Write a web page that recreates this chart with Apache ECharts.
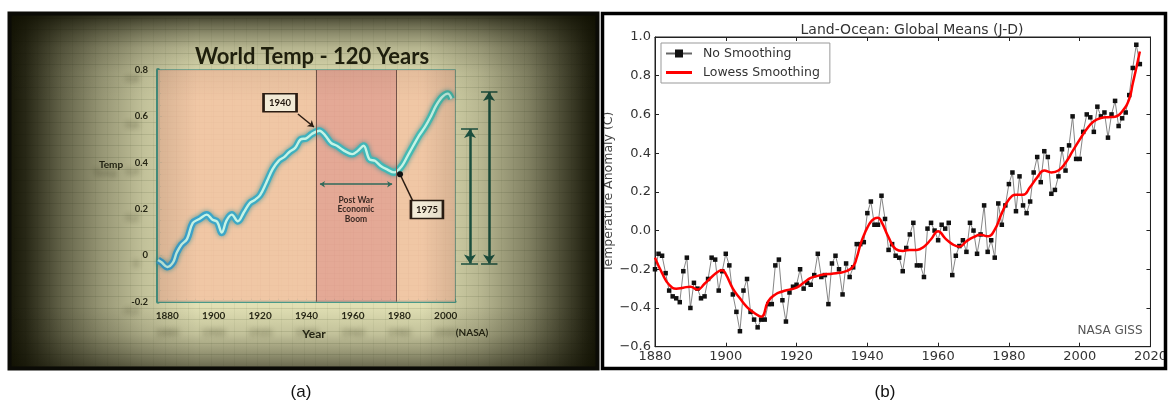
<!DOCTYPE html>
<html><head><meta charset="utf-8">
<script src="https://cdn.jsdelivr.net/npm/echarts@6/dist/echarts.min.js"></script>
<style>html,body{margin:0;padding:0;background:#fff}#c{width:1170px;height:407px}</style>
</head><body><div id="c"></div>
<script>
// ---------- Panel (a): "World Temp - 120 Years" (TV graphic) ----------
const aTitle = 'World Temp - 120 Years';
const aYears = [1876,1877.5,1880,1882.5,1884,1886,1888.5,1891,1894,1897,1899.5,1901.5,1903.5,1905.5,1907.8,1910.4,1913,1915.5,1917.5,1920,1922.7,1925.4,1928,1930.5,1932.5,1935.2,1937.4,1939.9,1942.3,1945.6,1948.1,1950.6,1953.1,1956.3,1959.7,1962.1,1964.6,1967.1,1969.5,1972,1974.5,1977.8,1981.1,1983.6,1986,1988.5,1991,1993.4,1995.9,1998.4,2000.9,2002.5];
const aTemps = [-0.02,-0.03,-0.05,-0.03,0.01,0.045,0.07,0.14,0.158,0.176,0.154,0.145,0.098,0.15,0.176,0.147,0.186,0.225,0.238,0.26,0.314,0.372,0.408,0.425,0.445,0.465,0.50,0.505,0.524,0.538,0.517,0.485,0.473,0.451,0.437,0.451,0.473,0.415,0.408,0.386,0.372,0.358,0.386,0.43,0.473,0.517,0.553,0.596,0.647,0.683,0.698,0.676];
const aBoom = [1944, 1978.6];            // shaded "post war" band
const aLabel1940 = {text:'1940', at:[1928.6,0.659], from:[1936.3,0.61], to:[1943.2,0.554]};
const aLabel1975 = {text:'1975', at:[1991.9,0.198], dot:[1980.3,0.35], to:[1985.9,0.233]};
const aBoomText = {text:'Post War\nEconomic\nBoom', at:[1961.3,0.198], arrow:[1945.8,1976.9,0.307]};
const aRiseArrows = [{x:0.333, from:-0.035, to:0.545, cap:[0.133,0.511]}, {x:0.756, from:-0.035, to:0.705, cap:[0.578,0.944]}];

// ---------- Panel (b): NASA GISS Land-Ocean ----------
const bTitle = 'Land-Ocean: Global Means (J-D)';
const bFirstYear = 1880;
const bNoSmoothing = [
 -0.20,-0.12,-0.13,-0.22,-0.31,-0.34,-0.35,-0.37,-0.21,-0.14,
 -0.40,-0.27,-0.30,-0.35,-0.34,-0.25,-0.14,-0.15,-0.31,-0.21,
 -0.12,-0.18,-0.33,-0.42,-0.52,-0.31,-0.25,-0.42,-0.46,-0.50,
 -0.46,-0.46,-0.38,-0.38,-0.18,-0.15,-0.36,-0.47,-0.32,-0.29,
 -0.28,-0.20,-0.30,-0.27,-0.28,-0.23,-0.12,-0.24,-0.23,-0.38,
 -0.17,-0.13,-0.20,-0.33,-0.17,-0.24,-0.19,-0.07,-0.07,-0.06,
 0.09,0.15,0.03,0.03,0.18,0.06,-0.10,-0.07,-0.13,-0.14,
 -0.21,-0.09,-0.02,0.04,-0.18,-0.18,-0.24,0.01,0.04,0.00,
 -0.05,0.03,0.01,0.04,-0.23,-0.13,-0.08,-0.05,-0.11,0.04,
 0.00,-0.12,-0.02,0.13,-0.11,-0.05,-0.14,0.14,0.03,0.13,
 0.24,0.30,0.10,0.28,0.13,0.09,0.15,0.30,0.38,0.25,
 0.41,0.38,0.19,0.21,0.28,0.42,0.31,0.44,0.59,0.37,
 0.37,0.51,0.60,0.585,0.51,0.64,0.59,0.61,0.48,0.60,
 0.67,0.54,0.58,0.61,0.70,0.84,0.96,0.86];
const bLowessYears = [1880,1882,1884,1886,1888,1890,1892,1894,1896,1898,1899,1900,1902,1904,1906,1908,1910,1912,1914,1916,1918,1920,1922,1924,1926,1928,1930,1932,1934,1936,1937,1938,1939,1940,1941,1942,1943,1944,1946,1948,1950,1952,1954,1956,1958,1960,1962,1964,1966,1968,1970,1972,1974,1976,1978,1980,1982,1984,1986,1988,1990,1992,1994,1996,1998,2000,2002,2004,2006,2008,2010,2012,2014,2015,2016,2017];
const bLowess = [-0.14,-0.22,-0.28,-0.30,-0.295,-0.29,-0.305,-0.275,-0.24,-0.21,-0.205,-0.225,-0.30,-0.35,-0.395,-0.425,-0.445,-0.365,-0.33,-0.315,-0.305,-0.295,-0.27,-0.245,-0.234,-0.226,-0.223,-0.218,-0.21,-0.185,-0.14,-0.075,-0.025,0.015,0.045,0.062,0.066,0.045,-0.035,-0.095,-0.105,-0.10,-0.10,-0.083,-0.045,-0.003,-0.04,-0.07,-0.083,-0.055,-0.034,-0.022,-0.03,0.005,0.09,0.16,0.185,0.185,0.225,0.275,0.31,0.30,0.31,0.35,0.41,0.47,0.525,0.565,0.582,0.586,0.588,0.615,0.68,0.76,0.84,0.925];

// ---------- build ----------
const aData = aYears.map((y,i)=>[y,aTemps[i]]);
const bData = bNoSmoothing.map((v,i)=>[bFirstYear+i,v]);
const bLowData = bLowessYears.map((y,i)=>[y,bLowess[i]]);

const teal = '#4a9a89';
const aFont = 'Lato, "DejaVu Sans", sans-serif';
const bFont = '"DejaVu Sans", sans-serif';
const fmtB = v => (Math.abs(v)<1e-9 ? '0.0' : v.toFixed(1)).replace('-', '\u2212');
const fmtAy = v => Math.abs(v)<1e-9 ? '0' : v.toFixed(1);
const dark = a => 'rgba(14,14,0,' + a + ')';
const stops = arr => arr.map(([o,a]) => ({offset:o, color:dark(a)}));

const chart = echarts.init(document.getElementById('c'), null, {renderer:'canvas'});
chart.setOption({
  animation:false,
  backgroundColor:'#ffffff',
  title:[
    {text:aTitle, left:307, top:41, textAlign:'center',
     textStyle:{fontFamily:aFont, fontWeight:'bold', fontSize:22, color:'#22220f'}},
    {text:bTitle, left:907, top:18, textAlign:'center',
     textStyle:{fontFamily:bFont, fontWeight:'normal', fontSize:14, color:'#333'}}
  ],
  legend:{
    data:[{name:'No Smoothing'},{name:'Lowess Smoothing', icon:'path://M0,0H26V3H0Z'}],
    orient:'vertical', left:661, top:43, itemWidth:26, itemHeight:10, itemGap:6,
    padding:[4,10,4,4], borderColor:'#999', borderWidth:1, backgroundColor:'#fff',
    textStyle:{fontFamily:bFont, fontSize:12.5, color:'#333', padding:[0,0,0,6]}
  },
  grid:[
    {left:14, top:18, width:580, height:348, show:false},
    {left:158, top:70, width:297, height:231.7, show:true, borderColor:'#62a596', borderWidth:1.5, backgroundColor:'transparent'},
    {left:455, top:70, width:45, height:231.7, show:false},
    {left:655, top:37, width:505, height:309.7, show:true, borderColor:'#222', borderWidth:1, backgroundColor:'transparent'}
  ],
  xAxis:[
    {gridIndex:0, type:'value', min:0, max:50, interval:1, axisLine:{show:false}, axisTick:{show:false}, axisLabel:{show:false},
     splitLine:{show:true, lineStyle:{color:'rgba(80,95,55,0.07)', width:1}}},
    {gridIndex:1, type:'value', min:1876, max:2004, interval:4,
     axisLine:{show:true, onZero:false, lineStyle:{color:teal, width:3}},
     axisTick:{show:true, inside:true, length:3, lineStyle:{color:teal}},
     axisLabel:{show:true, interval:0, formatter:v=> (v%20===0 ? String(v) : ''), margin:9,
       fontFamily:aFont, fontWeight:'bold', fontSize:10, color:'#2a2a18',
       textShadowColor:'rgba(50,50,25,0.45)', textShadowBlur:5, textShadowOffsetY:17},
     splitLine:{show:true, lineStyle:{color:'rgba(140,105,90,0.2)', width:1}}},
    {gridIndex:2, type:'value', min:0, max:1, show:false},
    {gridIndex:3, type:'value', min:1880, max:2020, interval:20,
     axisLine:{show:true, onZero:false, lineStyle:{color:'#222', width:1}},
     axisTick:{show:true, inside:true, length:4, lineStyle:{color:'#222'}},
     axisLabel:{show:true, margin:3, formatter:v=>String(v), fontFamily:bFont, fontSize:13, color:'#333'},
     splitLine:{show:false}},
    {gridIndex:3, type:'value', position:'top', min:1880, max:2020, interval:20,
     axisLine:{show:true, onZero:false, lineStyle:{color:'#222', width:1}},
     axisTick:{show:true, inside:true, length:4, lineStyle:{color:'#222'}},
     axisLabel:{show:false}, splitLine:{show:false}}
  ],
  yAxis:[
    {gridIndex:0, type:'value', min:0, max:30, interval:1, axisLine:{show:false}, axisTick:{show:false}, axisLabel:{show:false},
     splitLine:{show:true, lineStyle:{color:'rgba(80,95,55,0.15)', width:1}}},
    {gridIndex:1, type:'value', min:-0.2, max:0.8, interval:0.2,
     axisLine:{show:true, onZero:false, lineStyle:{color:teal, width:4}},
     axisTick:{show:true, inside:true, length:4, lineStyle:{color:teal}},
     minorTick:{show:true, splitNumber:4, length:3, lineStyle:{color:teal}},
     axisLabel:{show:true, margin:10, formatter:fmtAy, fontFamily:aFont, fontWeight:'bold', fontSize:9.5, color:'#2a2a18',
       textShadowColor:'rgba(50,50,25,0.45)', textShadowBlur:5, textShadowOffsetX:-9, textShadowOffsetY:9},
     splitLine:{show:true, lineStyle:{color:'rgba(140,105,90,0.25)', width:1}},
     minorSplitLine:{show:true, lineStyle:{color:'rgba(140,105,90,0.18)', width:1}}},
    {gridIndex:2, type:'value', min:-0.2, max:0.8, show:false},
    {gridIndex:3, type:'value', min:-0.6, max:1.0, interval:0.2,
     name:'Temperature Anomaly (C)', nameLocation:'middle', nameGap:38,
     nameTextStyle:{fontFamily:bFont, fontSize:12.5, color:'#444'},
     axisLine:{show:true, onZero:false, lineStyle:{color:'#222', width:1}},
     axisTick:{show:true, inside:true, length:4, lineStyle:{color:'#222'}},
     axisLabel:{show:true, margin:4, formatter:fmtB, fontFamily:bFont, fontSize:13, color:'#333'},
     splitLine:{show:false}},
    {gridIndex:3, type:'value', position:'right', min:-0.6, max:1.0, interval:0.2,
     axisLine:{show:true, onZero:false, lineStyle:{color:'#222', width:1}},
     axisTick:{show:true, inside:true, length:4, lineStyle:{color:'#222'}},
     axisLabel:{show:false}, splitLine:{show:false}}
  ],
  series:[
    {type:'line', name:'bands', xAxisIndex:1, yAxisIndex:1, data:aData, symbol:'none', silent:true, z:1,
     lineStyle:{opacity:0},
     markArea:{silent:true, itemStyle:{opacity:0.86},
       data:[[{xAxis:1876, itemStyle:{color:'#f2c3a2'}},{xAxis:aBoom[0]}],
             [{xAxis:aBoom[0], itemStyle:{color:'#e4a090'}},{xAxis:aBoom[1]}],
             [{xAxis:aBoom[1], itemStyle:{color:'#f2c3a2'}},{xAxis:2004}]]},
     markLine:{silent:true, symbol:'none', label:{show:false}, lineStyle:{color:'#74544a', width:1, type:'solid'},
       data:[{xAxis:aBoom[0]},{xAxis:aBoom[1]}]}},
    {type:'line', name:'tempA_glow', xAxisIndex:1, yAxisIndex:1, data:aData, smooth:0.35, symbol:'none', z:3,
     lineStyle:{width:7, shadowColor:'rgba(30,140,150,0.7)', shadowBlur:5,
       color:{type:'linear', x:0, y:0, x2:1, y2:0, colorStops:[{offset:0, color:'#3a9ed0'},{offset:0.4, color:'#3eaec0'},{offset:1, color:'#46beae'}]}}},
    {type:'line', name:'tempA', xAxisIndex:1, yAxisIndex:1, data:aData, smooth:0.35, symbol:'none', z:4,
     lineStyle:{color:'#c6f4e6', width:2.4}},
    {type:'line', name:'annot', xAxisIndex:1, yAxisIndex:1, data:[], z:6,
     markPoint:{silent:true, animation:false, data:[
       {coord:aLabel1940.at, symbol:'rect', symbolSize:[33,18],
        itemStyle:{color:'#f3ebd7', borderColor:'#2a1c12', borderWidth:2},
        label:{show:true, position:'inside', formatter:aLabel1940.text, fontFamily:aFont, fontWeight:'bold', fontSize:9.5, color:'#22180f'}},
       {coord:aLabel1975.at, symbol:'rect', symbolSize:[32,18],
        itemStyle:{color:'#f3ebd7', borderColor:'#2a1c12', borderWidth:2},
        label:{show:true, position:'inside', formatter:aLabel1975.text, fontFamily:aFont, fontWeight:'bold', fontSize:9.5, color:'#22180f'}},
       {coord:aLabel1975.dot, symbol:'circle', symbolSize:6, itemStyle:{color:'#111'}, label:{show:false}},
       {coord:aBoomText.at, symbol:'rect', symbolSize:1, itemStyle:{color:'rgba(0,0,0,0)'},
        label:{show:true, position:'inside', formatter:aBoomText.text, lineHeight:9.5, align:'center',
          fontFamily:aFont, fontWeight:'bold', fontSize:8.5, color:'#3b2a24'}}
     ]},
     markLine:{silent:true, label:{show:false}, symbolSize:6,
       data:[
        [{coord:aLabel1940.from, symbol:'none', lineStyle:{color:'#2a1c12', width:1.5, type:'solid'}},{coord:aLabel1940.to, symbol:'arrow'}],
        [{coord:aLabel1975.dot, symbol:'none', lineStyle:{color:'#2a1c12', width:1.5, type:'solid'}},{coord:aLabel1975.to, symbol:'none'}],
        [{coord:[aBoomText.arrow[0],aBoomText.arrow[2]], symbol:'arrow', symbolSize:5, lineStyle:{color:'#2f6a5a', width:1.5, type:'solid'}},
         {coord:[aBoomText.arrow[1],aBoomText.arrow[2]], symbol:'arrow', symbolSize:5}]
       ]}},
    {type:'line', name:'rise', xAxisIndex:2, yAxisIndex:2, data:[], z:6,
     markLine:{silent:true, label:{show:false}, symbolSize:9,
       data: aRiseArrows.flatMap(a=>[
        [{coord:[a.x,a.from], symbol:'arrow', lineStyle:{color:'#1d5a49', width:2.5, type:'solid'}},{coord:[a.x,a.to], symbol:'arrow'}],
        [{coord:[a.cap[0],a.to], symbol:'none', lineStyle:{color:'#1d5a49', width:1.5, type:'solid'}},{coord:[a.cap[1],a.to], symbol:'none'}],
        [{coord:[a.cap[0],a.from], symbol:'none', lineStyle:{color:'#1d5a49', width:1.5, type:'solid'}},{coord:[a.cap[1],a.from], symbol:'none'}]
       ])}},
    {type:'line', name:'No Smoothing', xAxisIndex:3, yAxisIndex:3, data:bData, z:3,
     symbol:'rect', symbolSize:4.5, showSymbol:true, itemStyle:{color:'#111'},
     lineStyle:{color:'#666', width:0.8}},
    {type:'line', name:'Lowess Smoothing', xAxisIndex:3, yAxisIndex:3, data:bLowData, z:4,
     smooth:0.5, symbol:'none', itemStyle:{color:'#ff0000'}, lineStyle:{color:'#ff0000', width:2.5}}
  ],
  graphic:[
    {type:'rect', z:-10, silent:true, shape:{x:8, y:12, width:591, height:358}, style:{fill:'#e1e0b4'}},
    {type:'rect', z:-10, silent:true, shape:{x:602, y:13, width:563, height:355}, style:{fill:'#ffffff'}},
    {type:'text', z:5, silent:true, x:111, y:165, style:{text:'Temp', font:'bold 10px Lato', fill:'#2a2a18', align:'center', verticalAlign:'middle',
      textShadowColor:'rgba(50,50,25,0.4)', textShadowBlur:5, textShadowOffsetX:-6, textShadowOffsetY:8}},
    {type:'text', z:5, silent:true, x:314, y:334, style:{text:'Year', font:'bold 12px Lato', fill:'#2a2a18', align:'center', verticalAlign:'middle'}},
    {type:'text', z:5, silent:true, x:472, y:333, style:{text:'(NASA)', font:'bold 10px Lato', fill:'#2a2a18', align:'center', verticalAlign:'middle'}},
    {type:'rect', z:100, silent:true, shape:{x:8, y:12, width:591, height:358},
     style:{fill:{type:'linear', x:0, y:0, x2:1, y2:0, colorStops:stops([[0,0.97],[0.03,0.88],[0.09,0.6],[0.16,0.35],[0.23,0.15],[0.32,0],[0.7,0],[0.8,0.2],[0.88,0.45],[0.94,0.72],[0.98,0.9],[1,0.97]])}}},
    {type:'rect', z:100, silent:true, shape:{x:8, y:12, width:591, height:358},
     style:{fill:{type:'linear', x:0, y:0, x2:0, y2:1, colorStops:stops([[0,0.85],[0.03,0.6],[0.06,0.4],[0.1,0.2],[0.17,0.05],[0.25,0],[0.82,0],[0.9,0.15],[0.95,0.35],[1,0.6]])}}},
    {type:'rect', z:101, silent:true, shape:{x:9.5, y:13.5, width:588, height:355}, style:{fill:'none', stroke:'#0b0b06', lineWidth:4}},
    {type:'rect', z:101, silent:true, shape:{x:602.5, y:13.5, width:563, height:355}, style:{fill:'none', stroke:'#000', lineWidth:3.5}},
    {type:'text', z:5, silent:true, x:1110, y:331, style:{text:'NASA GISS', font:'12px "DejaVu Sans"', fill:'#555', align:'center', verticalAlign:'middle'}},
    {type:'text', z:5, silent:true, x:301, y:392, style:{text:'(a)', font:'17px "Liberation Sans"', fill:'#111', align:'center', verticalAlign:'middle'}},
    {type:'text', z:5, silent:true, x:885, y:392, style:{text:'(b)', font:'17px "Liberation Sans"', fill:'#111', align:'center', verticalAlign:'middle'}}
  ]
});
</script></body></html>
